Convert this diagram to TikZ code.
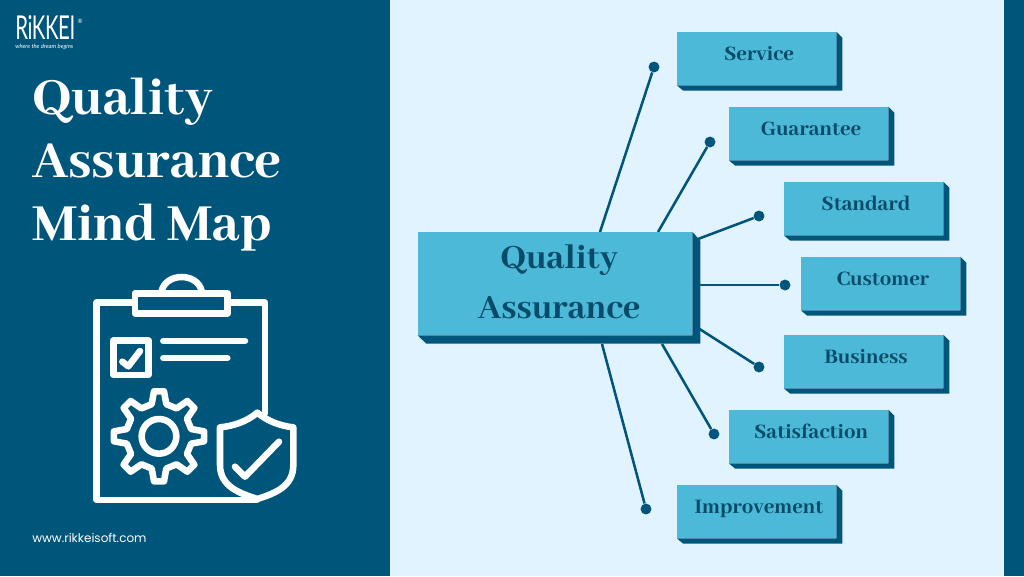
\documentclass[tikz,border=0pt]{standalone}
\usepackage{fontspec}
\setmainfont{Abhaya Libre}[BoldFont={Abhaya Libre ExtraBold}]
\newfontfamily\webfont{Poppins}
\newfontfamily\logofont{Lato}
\definecolor{navy}{HTML}{00567A}
\definecolor{pale}{HTML}{E0F3FF}
\definecolor{boxblue}{HTML}{4BB9D7}
\definecolor{inkblue}{HTML}{064B69}
\newcommand{\boxlabel}[1]{\hspace*{3.75pt}\raisebox{7.25pt}{#1}}
\tikzset{
  x=0.75pt,y=-0.75pt,
  leafbox/.style={fill=boxblue,minimum width=119.25pt,minimum height=39.75pt,inner sep=0pt,
    text=inkblue,font=\bfseries\fontsize{17}{20}\selectfont},
  hubbox/.style={fill=boxblue,minimum width=205.5pt,minimum height=77.25pt,inner sep=0pt,
    text=inkblue,font=\bfseries\fontsize{28}{36.75}\selectfont,align=center},
  side/.style={fill=navy},
  link/.style={draw=navy,line width=1.9pt},
  dot/.style={circle,fill=navy,minimum size=8.2pt,inner sep=0pt},
  icon/.style={draw=white,line width=4.9pt,line join=round,line cap=round},
}
\begin{document}
\begin{tikzpicture}
\useasboundingbox (0,0) rectangle (1024,576);
\fill[pale] (0,0) rectangle (1024,576);
\fill[navy] (0,0) rectangle (390,576);
\fill[navy] (1004,0) rectangle (1024,576);

% logo
\node[anchor=north west,inner sep=0pt,text=white] (logo) at (15,15)
  {\resizebox{45pt}{18pt}{\logofont\addfontfeature{LetterSpace=-2}RiKKEI}};
\node[anchor=west,inner sep=0pt,text=white,font=\logofont\itshape\fontsize{4.4}{5}\selectfont] (tag) at (15,47) {where the dream begins};
\node[anchor=center,inner sep=0pt,text=white,font=\logofont\fontsize{4.5}{5}\selectfont] (reg) at (80,21) {®};

% title
\node[anchor=north west,inner sep=0pt,text=white,align=left,font=\bfseries\fontsize{43}{47}\selectfont] (title) at (32,78)
  {Quality\\Assurance\\Mind Map};
\node[anchor=west,inner sep=0pt,text=white,font=\webfont\fontsize{9}{12}\selectfont] (web) at (32,538) {www.rikkeisoft.com};

% clipboard icon (local units: one third of a pixel)
\begin{scope}[shift={(80,265)},x=0.25pt,y=-0.25pt]
  \draw[icon] (155,113) -- (50,113) -- (50,705) -- (530,705);
  \draw[icon] (445,113) -- (555,113) -- (555,445);
  \draw[icon] (165,85) rectangle (443,145);
  \draw[icon] (245,78) .. controls (258,22) and (352,22) .. (365,78);
  \draw[icon] (100,227) rectangle (205,330);
  \draw[icon] (127,290) -- (145,304) -- (180,258);
  \draw[icon] (250,228) -- (495,228);
  \draw[icon] (250,279) -- (442,279);
  \begin{scope}[shift={(237,514)}]
    \draw[icon] (0,0) circle (52);
    \draw[icon] (-12.8:99)
      \foreach \a in {0,45,...,315}{
        -- (\a-12.8:99) -- (\a-6.3:136) -- (\a+6.3:136) -- (\a+12.8:99)
      } -- cycle;
  \end{scope}
  \draw[icon,fill=navy] (532,443) .. controls (500,470) and (460,483) .. (420,487)
     -- (420,600) .. controls (420,665) and (480,685) .. (532,702)
     .. controls (584,685) and (640,665) .. (640,600)
     -- (640,487) .. controls (604,483) and (564,470) .. (532,443) -- cycle;
  \draw[icon] (465,605) -- (495,635) -- (597,530);
\end{scope}

% connector ends
\coordinate (m1) at (600,232);
\coordinate (m2) at (658,232);
\coordinate (m3) at (698,239);
\coordinate (m4) at (700,285);
\coordinate (m5) at (698,328);
\coordinate (m6) at (662,344);
\coordinate (m7) at (602,344);

\node[dot] (d1) at (654,67) {};
\node[dot] (d2) at (710,142) {};
\node[dot] (d3) at (759,216) {};
\node[dot] (d4) at (785,285) {};
\node[dot] (d5) at (759,367) {};
\node[dot] (d6) at (714,434) {};
\node[dot] (d7) at (646,509) {};
\foreach \i in {1,...,7} \draw[link] (m\i) -- (d\i);

% boxes
\node[hubbox] (hub) at (555,283.5)
  {\hspace*{6pt}\raisebox{-12pt}{\begin{tabular}{@{}c@{}}Quality\\[1pt]Assurance\end{tabular}}};
\fill[side] (hub.north east) -- ++(8,9) -- ++(0,103) -- ++(-274,0) -- (hub.south west) -- (hub.south east) -- cycle;

\node[leafbox] (b1) at (756.5,58.5) {\boxlabel{Service}};
\node[leafbox] (b2) at (808.5,133.5) {\boxlabel{Guarantee}};
\node[leafbox] (b3) at (863.5,208.5) {\boxlabel{Standard}};
\node[leafbox] (b4) at (880.5,283.5) {\boxlabel{Customer}};
\node[leafbox] (b5) at (863.5,361.5) {\boxlabel{Business}};
\node[leafbox] (b6) at (808.5,436.5) {\boxlabel{Satisfaction}};
\node[leafbox] (b7) at (756.5,511.5) {\boxlabel{Improvement}};
\foreach \i in {1,...,7}
  \fill[side] (b\i.north east) -- ++(6,6) -- ++(0,53) -- ++(-159,0) -- (b\i.south west) -- (b\i.south east) -- cycle;
\end{tikzpicture}
\end{document}
